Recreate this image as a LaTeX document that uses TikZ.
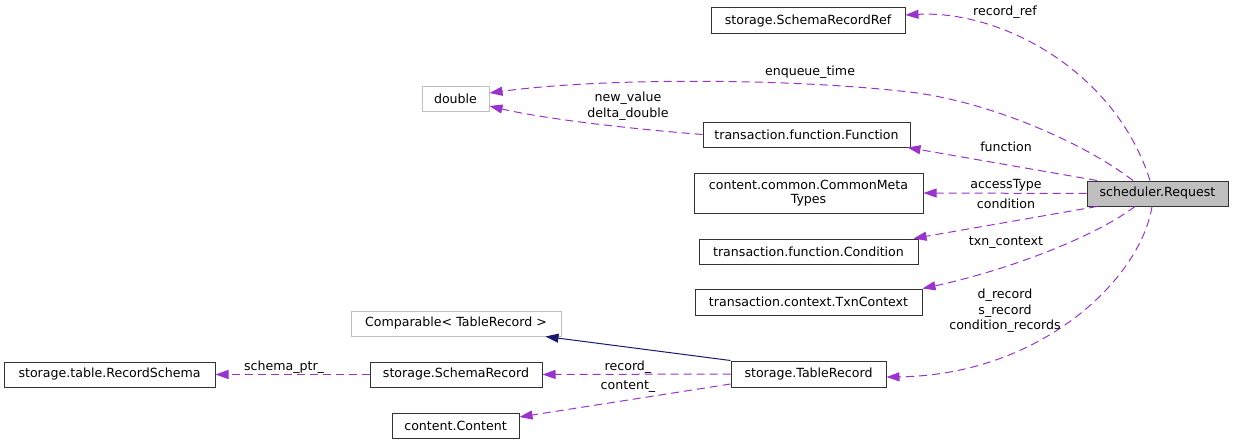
\documentclass[tikz,border=0pt]{standalone}
\usepackage{fontspec}
\setmainfont{DejaVu Sans}
\usepackage{xcolor}
\usepackage{tikz}
\usetikzlibrary{arrows.meta}
\usetikzlibrary{calc}
\usetikzlibrary{positioning}
\definecolor{depcol}{HTML}{9A32CD}
\definecolor{inhcol}{HTML}{191970}
\definecolor{extcol}{HTML}{BFBFBF}

\begin{document}
\begin{tikzpicture}[x=1pt,y=-1pt,semithick]
 				 \tikzstyle{every node}=[font=\fontsize{12.6}{13.5}\selectfont]
 				 \tikzstyle{cls}=[draw=black!80, line width=1pt, fill=white, inner sep=0pt, align=center]
 				 \tikzstyle{ext}=[cls, draw=extcol]
 				 \tikzstyle{dep}=[draw=depcol, line width=1pt, dash pattern=on 8pt off 5pt, -{Triangle[length=13pt,width=9pt]}]
 				 \tikzstyle{inh}=[draw=inhcol, line width=1pt, -{Triangle[length=13pt,width=9pt]}]
 				 \tikzstyle{lbl}=[inner sep=0pt, align=center, font=\fontsize{12.6}{15.5}\selectfont]
			\useasboundingbox (0,0) rectangle (1233,444);
			\node[cls, fill=extcol, minimum width=141pt, minimum height=25pt] (req) at (1157.5,193.5) {scheduler.Request};
			\node[cls, minimum width=194pt, minimum height=26pt] (ref) at (808,21) {storage.SchemaRecordRef};
			\node[ext, minimum width=67pt, minimum height=25pt] (dbl) at (455.5,98.5) {double};
			\node[cls, minimum width=207pt, minimum height=25pt] (fun) at (806.5,134.5) {transaction.function.Function};
			\node[cls, minimum width=229pt, minimum height=40pt] (meta) at (808.5,193) {content.common.CommonMeta\\Types};
			\node[cls, minimum width=219pt, minimum height=25pt] (cond) at (808.5,251.5) {transaction.function.Condition};
			\node[cls, minimum width=227pt, minimum height=26pt] (txn) at (808.5,302) {transaction.context.TxnContext};
			\node[ext, minimum width=210pt, minimum height=25pt] (cmp) at (456,323.5) {Comparable< TableRecord >};
			\node[cls, minimum width=155pt, minimum height=26pt] (tab) at (808.5,374) {storage.TableRecord};
			\node[cls, minimum width=172pt, minimum height=25pt] (srec) at (456,374.5) {storage.SchemaRecord};
			\node[cls, minimum width=211pt, minimum height=25pt] (rsch) at (109.5,374.5) {storage.table.RecordSchema};
			\node[cls, minimum width=127pt, minimum height=25pt] (cont) at (455.5,425.5) {content.Content};

			% members of the request
			\draw[dep] ([xshift=-7.5pt]req.north) .. controls (1115,70) and (1000,10) .. ([yshift=6pt]ref.east);
			\draw[dep] ([xshift=-24.5pt]req.north) .. controls (1080,140) and (980,98) .. (900,91) .. controls (780,78) and (600,78) .. ([yshift=5.5pt]dbl.east);
			\draw[dep] ([xshift=-60.5pt]req.north) -- ([xshift=-3pt]fun.south east);
			\draw[dep] (req.west) -- (meta.east);
			\draw[dep] ([xshift=-60.5pt]req.south) -- ([xshift=-5pt]cond.north east);
			\draw[dep] ([xshift=-22.5pt]req.south) .. controls (1090,240) and (1000,272) .. (txn.north east);
			\draw[dep] ([xshift=-5.5pt]req.south) .. controls (1140,280) and (1040,375) .. ([yshift=-3pt]tab.east);
			\draw[dep] (fun.west) .. controls (620,128) and (540,118) .. ([yshift=-7.5pt]dbl.east);
			% table record
			\draw[inh] (tab.north west) -- ([xshift=-16pt]cmp.south east);
			\draw[dep] (tab.west) -- (srec.east);
			\draw[dep] ([yshift=-10pt]tab.west) -- ([yshift=8.5pt]cont.east);
			\draw[dep] (srec.west) -- (rsch.east);

			\node[lbl] (lref) at (1005,12) {record\_ref};
			\node[lbl] (lenq) at (810,72) {enqueue\_time};
			\node[lbl] (lval) at (628,106) {new\_value\\delta\_double};
			\node[lbl] (lfun) at (1006,147) {function};
			\node[lbl] (lacc) at (1006,185) {accessType};
			\node[lbl] (lcond) at (1006,204) {condition};
			\node[lbl] (ltxn) at (1006,243) {txn\_context};
			\node[lbl] (lrec) at (1005,311) {d\_record\\s\_record\\condition\_records};
			\node[lbl] (lsrec) at (628,367) {record\_};
			\node[lbl] (lcont) at (628,387) {content\_};
			\node[lbl] (lsch) at (284,367) {schema\_ptr\_};
\end{tikzpicture}
\end{document}
